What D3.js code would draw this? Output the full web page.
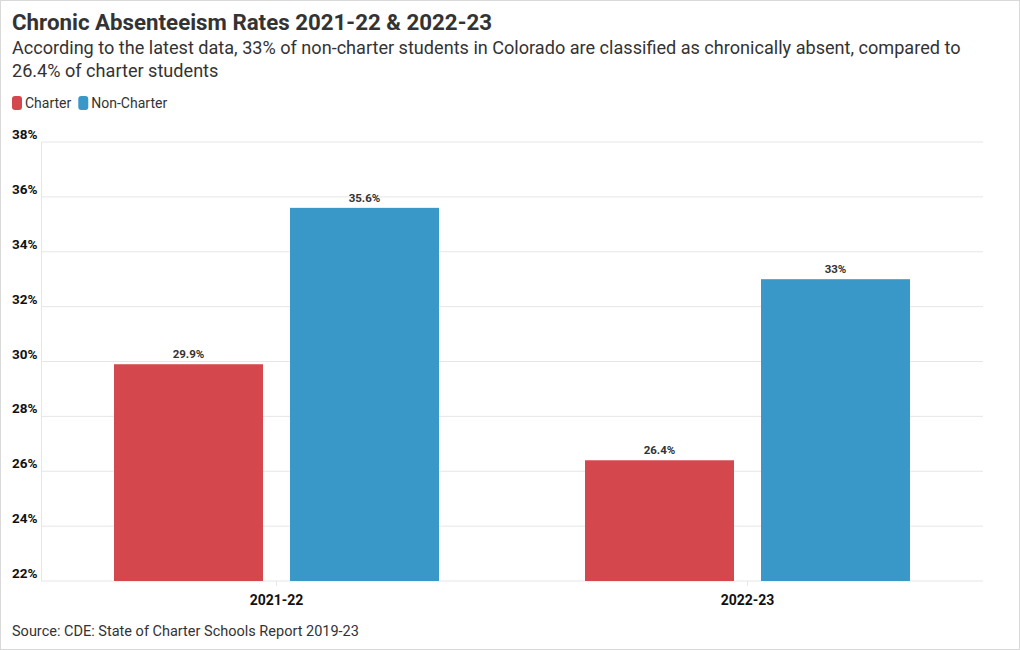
<!DOCTYPE html>
<html><head><meta charset="utf-8">
<script src="https://cdn.jsdelivr.net/npm/d3@7"></script>
<style>
body{margin:0;background:#fff;}
svg{display:block;font-family:Roboto,"Noto Sans",sans-serif;}
</style></head>
<body>
<svg id="c" width="1020" height="650"></svg>
<script>
const categories = ["2021-22", "2022-23"];
const seriesNames = ["Charter", "Non-Charter"];
const charter = [29.9, 26.4];
const nonCharter = [35.6, 33];
const valueLabels = [["29.9%", "35.6%"], ["26.4%", "33%"]];
const yTicks = [22, 24, 26, 28, 30, 32, 34, 36, 38];
const colors = ["#d4474d", "#3a98c9"];

(function(){
const svg = d3.select("#c");
svg.append("rect").attr("x",0.5).attr("y",0.5).attr("width",1019).attr("height",649)
  .attr("fill","#fff").attr("stroke","#d9d9d9");

svg.append("text").attr("x",12).attr("y",30).attr("font-size",22.3).attr("font-weight",700)
  .attr("fill","#333").text("Chronic Absenteeism Rates 2021-22 & 2022-23");
svg.append("text").attr("x",12).attr("y",54).attr("font-size",18.1).attr("fill","#333")
  .text("According to the latest data, 33% of non-charter students in Colorado are classified as chronically absent, compared to");
svg.append("text").attr("x",12).attr("y",77).attr("font-size",18.1).attr("fill","#333")
  .text("26.4% of charter students");

// legend
const leg = svg.append("g");
let lx = 12;
seriesNames.forEach((n,i)=>{
  leg.append("rect").attr("x",lx).attr("y",96).attr("width",10).attr("height",14).attr("rx",3).attr("fill",colors[i]);
  const t = leg.append("text").attr("x",lx+13).attr("y",108).attr("font-size",14).attr("fill","#333").text(n);
  lx += 13 + t.node().getComputedTextLength() + 7;
});

const pL = 41, pR = 983, pT = 142, pB = 581;
const y = d3.scaleLinear().domain([22,38]).range([pB, pT]);
const x0 = d3.scaleBand().domain(categories).range([pL,pR]).paddingInner(0).paddingOuter(0);
const x1 = d3.scaleBand().domain(seriesNames).range([73, x0.bandwidth()-73]).paddingInner(27/176).paddingOuter(0);

// grid
const grid = svg.append("g");
yTicks.forEach(t=>{
  grid.append("line").attr("x1",pL).attr("x2",pR).attr("y1",y(t)).attr("y2",y(t))
    .attr("stroke","#e6e6e6").attr("stroke-width",1);
  svg.append("text").attr("x",12).attr("y",y(t)-3).attr("font-size",13.5).attr("font-weight",700)
    .attr("fill","#111").text(t+"%");
});
svg.append("line").attr("x1",pL+0.5).attr("x2",pL+0.5).attr("y1",pT).attr("y2",pB)
  .attr("stroke","#e6e6e6");

// bars
const data = categories.map((c,i)=>({cat:c, vals:[charter[i], nonCharter[i]]}));
const g = svg.append("g");
data.forEach((d,i)=>{
  d.vals.forEach((v,j)=>{
    const bx = x0(d.cat) + x1(seriesNames[j]);
    g.append("rect").attr("x",bx).attr("y",y(v)).attr("width",x1.bandwidth())
      .attr("height",pB - y(v)).attr("fill",colors[j]);
    g.append("text").attr("x",bx + x1.bandwidth()/2).attr("y",y(v)-6).attr("text-anchor","middle")
      .attr("font-size",11.5).attr("font-weight",700).attr("fill","#333").text(valueLabels[i][j]);
  });
  const cx = x0(d.cat) + x0.bandwidth()/2;
  svg.append("line").attr("x1",cx).attr("x2",cx).attr("y1",pB).attr("y2",pB+5).attr("stroke","#e6e6e6");
  svg.append("text").attr("x",cx).attr("y",605).attr("text-anchor","middle").attr("font-size",14)
    .attr("font-weight",700).attr("fill","#111").text(d.cat);
});

svg.append("text").attr("x",12).attr("y",636).attr("font-size",14.5).attr("fill","#333")
  .text("Source: CDE: State of Charter Schools Report 2019-23");
})();
</script>
</body></html>
